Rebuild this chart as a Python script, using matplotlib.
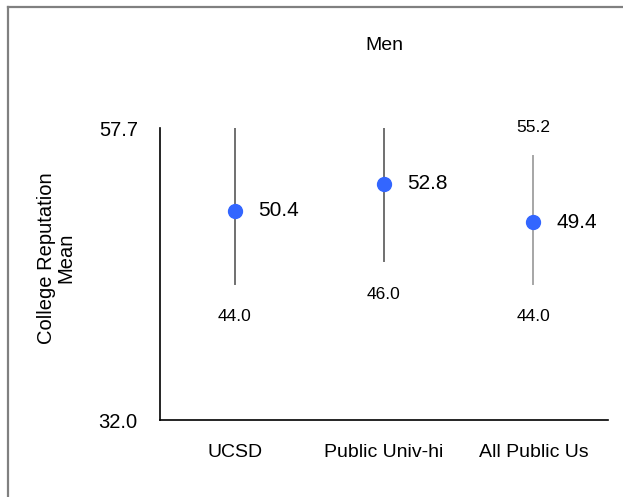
import matplotlib.pyplot as plt
import matplotlib.lines as mlines

plt.rcParams['font.family'] = ['Liberation Sans Narrow', 'Liberation Sans', 'DejaVu Sans']

# data
groups = ["UCSD", "Public Univ-hi", "All Public Us"]
means = [50.4, 52.8, 49.4]
lows = [44.0, 46.0, 44.0]
highs = [57.7, 57.7, 55.2]
show_high = [False, False, True]
line_colors = ["#707070", "#707070", "#a6a6a6"]

fig = plt.figure(figsize=(6.23, 4.97), dpi=100)
ax = fig.add_axes([160/623, 1-420/497, 448/623, 292/497])

x = list(range(len(groups)))
for i in x:
    ax.plot([i, i], [lows[i], highs[i]], color=line_colors[i], lw=1.4, zorder=1)
    ax.plot(i, means[i], 'o', color="#3366ff", ms=10, zorder=2)
    ax.annotate("%.1f" % means[i], (i, means[i]), xytext=(17, 0), textcoords='offset points',
                ha='left', va='center', fontsize=15)
    ax.annotate("%.1f" % lows[i], (i, lows[i]), xytext=(0, -24), textcoords='offset points',
                ha='center', va='center', fontsize=12.5)
    if show_high[i]:
        ax.annotate("%.1f" % highs[i], (i, highs[i]), xytext=(0, 21), textcoords='offset points',
                    ha='center', va='center', fontsize=12.5)

ax.set_xlim(-0.5, 2.5)
ax.set_ylim(32.0, 57.7)
ax.set_yticks([32.0, 57.7])
ax.set_yticklabels(["32.0", "57.7"], fontsize=14.5)
ax.set_xticks(x)
ax.set_xticklabels(groups, fontsize=14)
ax.tick_params(axis='y', length=0, pad=16)
ax.tick_params(axis='x', length=0, pad=17)
ax.spines['top'].set_visible(False)
ax.spines['right'].set_visible(False)
ax.spines['left'].set_linewidth(1.2)
ax.spines['bottom'].set_linewidth(1.2)

ax.set_title("Men", fontsize=14, pad=56)
ax.set_ylabel("College Reputation\nMean", fontsize=14.5, linespacing=1.05)
ax.yaxis.set_label_coords(-0.188, 0.555)

# outer frame (top and left)
fig.add_artist(mlines.Line2D([8/623, 1], [1-7/497, 1-7/497], color="#808080", lw=1.6, transform=fig.transFigure))
fig.add_artist(mlines.Line2D([8/623, 8/623], [0, 1-7/497], color="#808080", lw=1.6, transform=fig.transFigure))

fig.savefig("out.png", dpi=100)
